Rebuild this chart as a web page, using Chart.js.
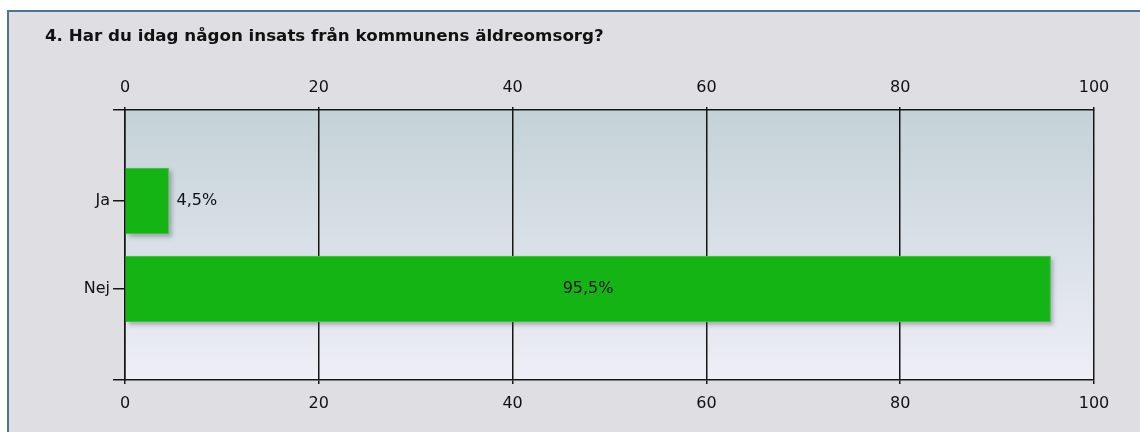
<!DOCTYPE html>
<html>
<head>
<meta charset="utf-8">
<script src="https://cdn.jsdelivr.net/npm/chart.js@4/dist/chart.umd.min.js"></script>
<style>
  html, body { margin: 0; padding: 0; background: #ffffff; }
  #wrap { width: 1140px; height: 432px; }
</style>
</head>
<body>
<div id="wrap"><canvas id="c" width="1140" height="432"></canvas></div>
<script>
// ---- data ----
const titleText = "4. Har du idag någon insats från kommunens äldreomsorg?";
const categories = ["Ja", "Nej"];
const percentValues = [4.5, 95.5];
const xTickValues = [0, 20, 40, 60, 80, 100];

// ---- layout / style (not data) ----
const FONT = "'DejaVu Sans', Verdana, sans-serif";
const TEXT = "#111111";
const LINE = "#161616";
const BAR = '#15b415';
const yMin = -1.034, yMax = 2.034;

const fmt = v => v.toFixed(1).replace('.', ',') + '%';

const frame = {
  id: 'frame',
  beforeDraw(chart) {
    const ctx = chart.ctx;
    ctx.save();
    ctx.fillStyle = '#ffffff';
    ctx.fillRect(0, 0, chart.width, chart.height);
    ctx.fillStyle = '#dfdee3';
    ctx.fillRect(7, 10, chart.width - 7, chart.height - 10);
    ctx.fillStyle = '#4f7394';
    ctx.fillRect(7, 10, chart.width - 7, 2);
    ctx.fillRect(7, 10, 2, chart.height - 10);
    // title
    ctx.fillStyle = TEXT;
    ctx.font = "bold 16.7px " + FONT;
    ctx.textBaseline = 'alphabetic';
    ctx.textAlign = 'left';
    ctx.fillText(titleText, 45, 41);
    // plot gradient
    const a = chart.chartArea;
    const g = ctx.createLinearGradient(0, a.top, 0, a.bottom);
    g.addColorStop(0, '#c4d2d8');
    g.addColorStop(1, '#eeeef6');
    ctx.fillStyle = g;
    ctx.fillRect(a.left, a.top, a.right - a.left, a.bottom - a.top);
    ctx.restore();
  },
  beforeDatasetsDraw(chart) {
    // soft drop shadow behind each bar, using the bar elements' own geometry
    const ctx = chart.ctx;
    ctx.save();
    ctx.shadowColor = 'rgba(80,80,95,0.38)';
    ctx.shadowOffsetX = 3;
    ctx.shadowOffsetY = 3;
    ctx.shadowBlur = 4;
    ctx.fillStyle = BAR;
    chart.getDatasetMeta(0).data.forEach(bar => {
      const p = bar.getProps(['x', 'y', 'base', 'height'], true);
      ctx.fillRect(p.base, p.y - p.height / 2, p.x - p.base, p.height);
    });
    ctx.restore();
  },
  afterDatasetsDraw(chart) {
    const ctx = chart.ctx;
    ctx.save();
    ctx.font = "16px " + FONT;
    ctx.fillStyle = TEXT;
    ctx.textBaseline = 'middle';
    const meta = chart.getDatasetMeta(0);
    meta.data.forEach((bar, i) => {
      const txt = fmt(percentValues[i]);
      const w = ctx.measureText(txt).width;
      const barW = bar.x - bar.base;
      if (barW > w + 20) {
        ctx.textAlign = 'center';
        ctx.fillText(txt, (bar.x + bar.base) / 2, bar.y);
      } else {
        ctx.textAlign = 'left';
        ctx.fillText(txt, bar.x + 8, bar.y);
      }
    });
    ctx.restore();
  }
};

const tickFont = { family: FONT, size: 16 };

new Chart(document.getElementById('c'), {
  type: 'bar',
  data: {
    datasets: [{
      data: categories.map((c, i) => ({ x: percentValues[i], y: i })),
      backgroundColor: BAR,
      borderColor: '#4cc64c',
      borderWidth: 1,
      barThickness: 66,
      xAxisID: 'x',
      yAxisID: 'y'
    }]
  },
  options: {
    indexAxis: 'y',
    responsive: false,
    animation: false,
    layout: { padding: { left: 0, right: 46, top: 0, bottom: 0 } },
    plugins: { legend: { display: false }, tooltip: { enabled: false }, title: { display: false } },
    scales: {
      x: {
        type: 'linear', position: 'bottom', min: 0, max: 100,
        afterBuildTicks: s => { s.ticks = xTickValues.map(v => ({ value: v })); },
        afterFit: s => { s.height = 52; },
        ticks: { color: TEXT, font: tickFont, padding: 10 },
        grid: { color: LINE, lineWidth: 1.5, tickLength: 4, drawTicks: true },
        border: { color: LINE, width: 1.5 }
      },
      x2: {
        type: 'linear', position: 'top', min: 0, max: 100,
        afterBuildTicks: s => { s.ticks = xTickValues.map(v => ({ value: v })); },
        afterFit: s => { s.height = 110; },
        ticks: { color: TEXT, font: tickFont, padding: 10 },
        grid: { color: LINE, lineWidth: 1.5, tickLength: 3, drawOnChartArea: false },
        border: { color: LINE, width: 1.5 }
      },
      y: {
        type: 'linear', position: 'left', reverse: true, min: yMin, max: yMax,
        offset: false,
        afterBuildTicks: s => {
          s.ticks = [{ value: yMin }].concat(categories.map((c, i) => ({ value: i })), [{ value: yMax }]);
        },
        afterFit: s => { s.width = 125; },
        ticks: {
          color: TEXT, font: tickFont, padding: 3,
          callback: v => (Number.isInteger(v) && categories[v] !== undefined) ? categories[v] : ''
        },
        grid: { color: LINE, lineWidth: 1.5, tickLength: 12, drawOnChartArea: false, offset: false },
        border: { color: LINE, width: 1.5 }
      }
    }
  },
  plugins: [frame]
});
</script>
</body>
</html>
